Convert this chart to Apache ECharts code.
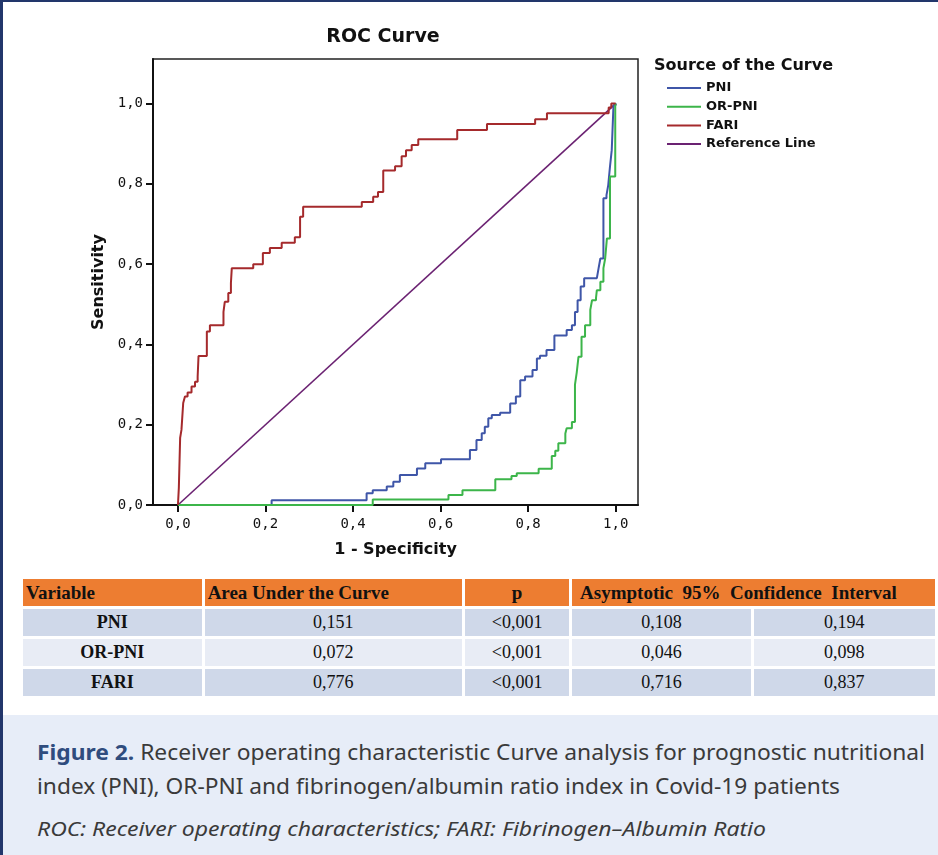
<!DOCTYPE html>
<html>
<head>
<meta charset="utf-8">
<script src="https://cdn.jsdelivr.net/npm/echarts@6/dist/echarts.min.js"></script>
<style>
  html, body { margin: 0; padding: 0; width: 938px; height: 855px; overflow: hidden; background: #fff; }
  #page { position: relative; width: 938px; height: 855px; }
  #frameLeft { position: absolute; left: 0; top: 0; width: 3px; height: 855px; background: #22366b; }
  #frameTop { position: absolute; left: 0; top: 0; width: 938px; height: 2px; background: #22366b; }
  #chart { position: absolute; left: 0; top: 0; width: 938px; height: 570px; }
  #aucTable { position: absolute; left: 20px; top: 576px; border-collapse: separate; border-spacing: 3px 3px;
    table-layout: fixed; font-family: "Liberation Serif", serif; font-size: 18px; color: #111; }
  #aucTable td { padding: 0; text-align: center; height: 27px; }
  #aucTable tr.head td { background: #ed7d31; font-weight: bold; font-size: 19px; text-align: left; padding-left: 3px; height: 27px; }
  #aucTable tr.head td.c { text-align: center; padding-left: 0; }
  #aucTable tr.odd td { background: #cfd8e9; }
  #aucTable tr.even td { background: #e8ecf5; }
  #aucTable td.var { font-weight: bold; }
  #caption { position: absolute; left: 3px; top: 715px; width: 935px; height: 140px; background: #e7edf8; }
  .cap { position: absolute; left: 34px; white-space: nowrap; transform-origin: 0 50%;
    font-family: "Noto Sans", sans-serif; color: #3a3a3a; line-height: 30px; }
  .cap b { color: #2f4c7e; }
</style>
</head>
<body>
<div id="page">
  <div id="chart"></div>
  <table id="aucTable">
    <colgroup><col style="width:180px"><col style="width:260px"><col style="width:105px"><col style="width:180px"><col style="width:183px"></colgroup>
    <tbody id="aucBody"></tbody>
  </table>
  <div id="caption">
    <div class="cap" id="cap1" style="top:22px;font-size:21px;"><b>Figure 2.</b> Receiver operating characteristic Curve analysis for prognostic nutritional</div>
    <div class="cap" id="cap2" style="top:56px;font-size:21px;">index (PNI), OR-PNI and fibrinogen/albumin ratio index in Covid-19 patients</div>
    <div class="cap" id="cap3" style="top:99px;font-size:19px;font-style:italic;">ROC: Receiver operating characteristics; FARI: Fibrinogen–Albumin Ratio</div>
  </div>
  <div id="frameLeft"></div>
  <div id="frameTop"></div>
</div>
<script>
// ROC curve points (1 - specificity, sensitivity)
const fprPNI = [0, 0.214, 0.431, 0.445, 0.477, 0.492, 0.507, 0.546, 0.565, 0.601, 0.667, 0.682, 0.694, 0.701, 0.709, 0.717,
  0.736, 0.759, 0.772, 0.782, 0.793, 0.810, 0.820, 0.827, 0.842, 0.860, 0.888, 0.900, 0.907, 0.913, 0.920, 0.928,
  0.957, 0.961, 0.965, 0.972, 0.979, 0.983, 0.987, 0.991, 0.995, 1];
const tprPNI = [0, 0.012, 0.029, 0.037, 0.046, 0.058, 0.075, 0.091, 0.104, 0.114, 0.137, 0.162, 0.179, 0.195, 0.216, 0.224,
  0.230, 0.253, 0.270, 0.311, 0.320, 0.336, 0.365, 0.372, 0.386, 0.422, 0.436, 0.448, 0.481, 0.510, 0.544, 0.565,
  0.565, 0.590, 0.614, 0.764, 0.772, 0.797, 0.843, 0.884, 0.996, 1];

const fprORPNI = [0, 0.445, 0.618, 0.650, 0.725, 0.762, 0.774, 0.824, 0.854, 0.862, 0.869, 0.885, 0.888, 0.900, 0.907,
  0.911, 0.915, 0.922, 0.930, 0.942, 0.946, 0.955, 0.957, 0.965, 0.972, 0.976, 0.980, 0.987, 0.999, 1];
const tprORPNI = [0, 0.014, 0.025, 0.037, 0.064, 0.072, 0.079, 0.090, 0.122, 0.135, 0.154, 0.178, 0.191, 0.207, 0.300,
  0.330, 0.369, 0.419, 0.448, 0.486, 0.510, 0.515, 0.535, 0.556, 0.590, 0.614, 0.664, 0.818, 0.996, 1];

const fprFARI = [0, 0.002, 0.005, 0.008, 0.012, 0.016, 0.022, 0.031, 0.039, 0.045, 0.047, 0.066, 0.073, 0.104, 0.107,
  0.115, 0.121, 0.123, 0.172, 0.194, 0.210, 0.237, 0.267, 0.279, 0.286, 0.420, 0.446, 0.457, 0.469, 0.496, 0.511,
  0.521, 0.534, 0.549, 0.638, 0.706, 0.816, 0.843, 0.984, 0.990, 1];
const tprFARI = [0, 0.042, 0.167, 0.187, 0.254, 0.270, 0.280, 0.295, 0.307, 0.320, 0.371, 0.432, 0.448, 0.481, 0.506,
  0.528, 0.553, 0.590, 0.600, 0.628, 0.640, 0.653, 0.667, 0.718, 0.743, 0.755, 0.768, 0.780, 0.833, 0.844, 0.869,
  0.884, 0.897, 0.911, 0.934, 0.949, 0.961, 0.976, 0.990, 1.0, 1];

const fprRef = [0, 1];
const tprRef = [0, 1];

const tickValues = [0, 0.2, 0.4, 0.6, 0.8, 1.0];

// table under the chart
const tableVars = ['PNI', 'OR-PNI', 'FARI'];
const aucValues = ['0,151', '0,072', '0,776'];
const pValues = ['<0,001', '<0,001', '<0,001'];
const ciLower = ['0,108', '0,046', '0,716'];
const ciUpper = ['0,194', '0,098', '0,837'];

function zip(xs, ys) {
    return xs.map((x, i) => [x, ys[i]]);
}

function fmtTick(v) {
    return v.toFixed(1).replace('.', ',');
}

function initRocChart() {
    const chartDom = document.getElementById('chart');
    const chart = echarts.init(chartDom, null, { renderer: 'canvas' });

    const axisFont = 'DejaVu Sans Mono';
    const boldFont = 'DejaVu Sans';

    const option = {
        animation: false,
        graphic: [
            {
                type: 'text', x: 383, y: 37,
                style: { text: 'ROC Curve', font: 'bold 19px "DejaVu Sans"', fill: '#111', textAlign: 'center', textVerticalAlign: 'middle' }
            },
            {
                type: 'text', x: 654, y: 66,
                style: { text: 'Source of the Curve', font: 'bold 16px "DejaVu Sans"', fill: '#111', textAlign: 'left', textVerticalAlign: 'middle' }
            }
        ],
        legend: {
            data: ['PNI', 'OR-PNI', 'FARI', 'Reference Line'],
            orient: 'vertical',
            left: 667,
            top: 81,
            padding: 0,
            icon: 'rect',
            itemWidth: 34,
            itemHeight: 2,
            itemGap: 4.7,
            selectedMode: false,
            textStyle: { fontFamily: boldFont, fontWeight: 'bold', fontSize: 13, lineHeight: 14, color: '#111' }
        },
        grid: {
            left: 153, top: 59, width: 485, height: 446,
            show: true, borderColor: '#222', borderWidth: 1.5, backgroundColor: '#fff'
        },
        xAxis: {
            type: 'value',
            min: -0.057,
            max: 1.051,
            name: '1 - Specificity',
            nameLocation: 'middle',
            nameGap: 37,
            nameTextStyle: { fontFamily: boldFont, fontWeight: 'bold', fontSize: 16, color: '#111' },
            splitLine: { show: false },
            axisLine: { onZero: false, lineStyle: { color: '#111', width: 2 } },
            axisTick: { customValues: tickValues, length: 7, lineStyle: { color: '#111', width: 2 } },
            axisLabel: { customValues: tickValues, formatter: fmtTick, margin: 12, fontFamily: axisFont, fontSize: 14, color: '#111' }
        },
        yAxis: {
            type: 'value',
            min: 0,
            max: 1.111,
            name: 'Sensitivity',
            nameLocation: 'middle',
            nameGap: 46,
            nameTextStyle: { fontFamily: boldFont, fontWeight: 'bold', fontSize: 16, color: '#111' },
            splitLine: { show: false },
            axisLine: { onZero: false, lineStyle: { color: '#111', width: 2 } },
            axisTick: { customValues: tickValues, length: 7, lineStyle: { color: '#111', width: 2 } },
            axisLabel: { customValues: tickValues, formatter: fmtTick, margin: 10, fontFamily: axisFont, fontSize: 14, color: '#111' }
        },
        series: [
            {
                name: 'Reference Line', type: 'line', data: zip(fprRef, tprRef),
                showSymbol: false, symbol: 'none', color: '#6b2272',
                lineStyle: { width: 1.6, color: '#6b2272' }, z: 2
            },
            {
                name: 'PNI', type: 'line', data: zip(fprPNI, tprPNI), step: 'end',
                showSymbol: false, symbol: 'none', color: '#3f56a8',
                lineStyle: { width: 2, color: '#3f56a8' }, z: 3
            },
            {
                name: 'OR-PNI', type: 'line', data: zip(fprORPNI, tprORPNI), step: 'end',
                showSymbol: false, symbol: 'none', color: '#3cb54a',
                lineStyle: { width: 2, color: '#3cb54a' }, z: 3
            },
            {
                name: 'FARI', type: 'line', data: zip(fprFARI, tprFARI), step: 'end',
                showSymbol: false, symbol: 'none', color: '#a52a2c',
                lineStyle: { width: 2, color: '#a52a2c' }, z: 4
            }
        ]
    };

    chart.setOption(option);
    window.addEventListener('resize', () => chart.resize());
}

function buildTable() {
    const body = document.getElementById('aucBody');
    let html = '<tr class="head"><td>Variable</td><td>Area Under the Curve</td><td class="c">p</td>' +
        '<td colspan="2">&nbsp;Asymptotic&nbsp; 95%&nbsp; Confidence&nbsp; Interval</td></tr>';
    tableVars.forEach((v, i) => {
        const cls = i % 2 === 0 ? 'odd' : 'even';
        html += '<tr class="' + cls + '"><td class="var">' + v + '</td><td>' + aucValues[i] + '</td><td>' +
            pValues[i] + '</td><td>' + ciLower[i] + '</td><td>' + ciUpper[i] + '</td></tr>';
    });
    body.innerHTML = html;
}

// squeeze caption lines to the condensed width of the original
function fitCaption() {
    const targets = { cap1: 888, cap2: 803, cap3: 729 };
    Object.keys(targets).forEach(id => {
        const el = document.getElementById(id);
        const w = el.getBoundingClientRect().width;
        if (w > 0) el.style.transform = 'scaleX(' + (targets[id] / w) + ')';
    });
}

document.addEventListener('DOMContentLoaded', function() {
    if (typeof echarts === 'undefined') {
        console.error('ECharts not loaded');
        return;
    }
    try {
        initRocChart();
        buildTable();
        fitCaption();
    } catch (error) {
        console.error('chart init failed:', error);
    }
});
</script>
</body>
</html>
